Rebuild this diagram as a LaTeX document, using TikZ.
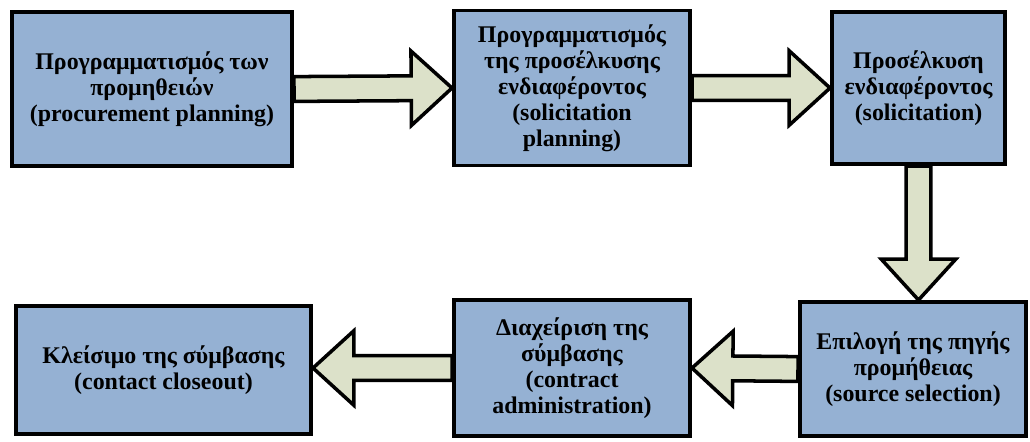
\documentclass[tikz,border=0pt]{standalone}
\usepackage{fontspec}
\setmainfont{Liberation Serif}
\usetikzlibrary{calc,shadows,backgrounds}
\definecolor{boxblue}{RGB}{149,177,211}
\definecolor{arrowfill}{RGB}{220,225,201}
\tikzstyle{r} = [rectangle, draw=black, line width=2.8pt, fill=boxblue, align=center, inner sep=2pt, font=\bfseries\fontsize{17}{18.5}\selectfont, drop shadow={shadow xshift=1.2pt, shadow yshift=-1.2pt, opacity=0.4}]
\tikzstyle{blk} = [draw=black, line width=2.5pt, fill=arrowfill, line join=miter]
% block arrow from #1 to #2
\newcommand{\blockarrow}[2]{%
  \path ($(#2)!1.02cm!(#1)$) coordinate (hb);
  \draw[blk] ($(#1)!0.31cm!90:(#2)$) -- ($(hb)!0.31cm!-90:(#1)$) -- ($(hb)!0.93cm!-90:(#1)$) -- (#2) -- ($(hb)!0.93cm!90:(#1)$) -- ($(hb)!0.31cm!90:(#1)$) -- ($(#1)!0.31cm!-90:(#2)$) -- cycle;}

\begin{document}
\begin{tikzpicture}[x=0.025cm, y=-0.025cm]
		\useasboundingbox (0,0) rectangle (1030,441);
		\node[r, minimum width=7cm, minimum height=3.85cm](planning) at (152,89){Προγραμματισμός των\\προμηθειών\\(procurement planning)};
		\node[r, minimum width=5.9cm, minimum height=3.875cm](solplan) at (572,88){Προγραμματισμός\\της προσέλκυσης\\ενδιαφέροντος\\(solicitation\\planning)};
		\node[r, minimum width=4.325cm, minimum height=3.8cm](solicit) at (918.5,88){Προσέλκυση\\ενδιαφέροντος\\(solicitation)};
		\node[r, minimum width=5.65cm, minimum height=3.35cm](selection) at (913,369){Επιλογή της πηγής\\προμήθειας\\(source selection)};
		\node[r, minimum width=5.9cm, minimum height=3.4cm](admin) at (572,368){Διαχείριση της\\σύμβασης\\(contract\\administration)};
		\node[r, minimum width=7.375cm, minimum height=3.2cm](closeout) at (163.5,370){Κλείσιμο της σύμβασης\\(contact closeout)};
		
		\coordinate (down) at (solicit.south |- selection.north);
		\coordinate (left) at (admin.west -| closeout.east);
		\begin{pgfonlayer}{background}
		\blockarrow{planning.east}{solplan.west}
		\blockarrow{solplan.east}{solicit.west}
		\blockarrow{solicit.south}{down}
		\blockarrow{selection.west}{admin.east}
		\blockarrow{admin.west}{left}
		\end{pgfonlayer}
	\end{tikzpicture}
\end{document}
